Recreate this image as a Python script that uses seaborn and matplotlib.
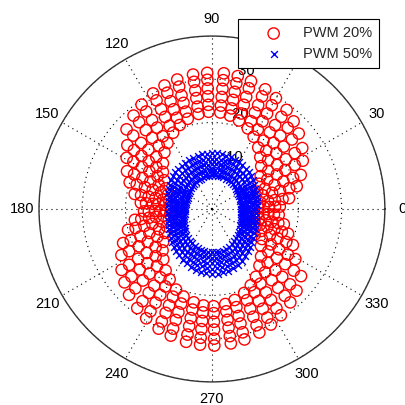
import numpy as np
import pandas as pd
import matplotlib
matplotlib.use("Agg")
import matplotlib.pyplot as plt
import seaborn as sns

# ---------------- data ----------------
series_names = ["PWM 20%", "PWM 50%"]

# PWM 20 %: radial clusters ("spokes"), angle in degrees and radii of the circles in each spoke
red_theta_deg = [2, 8, 15, 21, 28, 34, 41, 47, 53, 60, 66, 73, 79, 85,
                 92, 98, 105, 111, 117, 124, 130, 137, 143, 149, 156, 162, 169, 175,
                 182, 188, 194, 201, 207, 214, 220, 226, 233, 239, 246, 252, 259, 265,
                 271, 278, 284, 291, 297, 303, 310, 316, 323, 329, 336, 342, 348, 355]
red_radii = [
    [9.5, 10.6, 12.0, 13.2, 14.6, 15.7], [9.8, 11.3, 13.1, 14.7, 16.5, 18.0],
    [10.4, 12.2, 14.4, 16.3, 18.5, 20.3], [11.2, 13.1, 15.5, 17.7, 20.1, 22.0],
    [12.4, 14.5, 17.0, 19.2, 21.7, 23.8], [13.6, 15.7, 18.2, 20.6, 23.1, 25.2],
    [15.1, 17.2, 19.7, 22.0, 24.5, 26.6], [16.4, 18.4, 20.9, 23.2, 25.7, 27.7],
    [17.8, 19.8, 22.2, 24.3, 26.7, 28.7], [19.3, 21.2, 23.4, 25.5, 27.7, 29.6],
    [20.4, 22.2, 24.4, 26.3, 28.5, 30.3], [21.4, 23.1, 25.2, 27.1, 29.2, 30.9],
    [22.0, 23.7, 25.7, 27.6, 29.6, 31.3], [22.4, 24.0, 26.0, 27.9, 29.9, 31.5],
    [22.5, 24.1, 26.1, 27.9, 29.9, 31.5], [22.2, 23.9, 25.9, 27.7, 29.7, 31.4],
    [21.6, 23.3, 25.4, 27.2, 29.3, 31.0], [20.8, 22.6, 24.7, 26.7, 28.8, 30.6],
    [19.8, 21.6, 23.9, 25.9, 28.2, 30.0], [18.4, 20.3, 22.7, 24.8, 27.2, 29.1],
    [17.1, 19.1, 21.5, 23.8, 26.2, 28.2], [15.5, 17.6, 20.1, 22.4, 24.9, 27.0],
    [14.2, 16.1, 18.3, 20.4, 22.6, 24.5], [12.9, 14.7, 16.9, 18.9, 21.2, 23.0],
    [11.7, 13.5, 15.6, 17.6, 19.7, 21.5], [10.7, 12.4, 14.4, 16.3, 18.3, 20.0],
    [10.0, 11.5, 13.3, 14.9, 16.7, 18.2], [9.6, 10.8, 12.4, 13.7, 15.3, 16.5],
    [9.5, 10.6, 12.0, 13.2, 14.6, 15.7], [9.8, 11.3, 13.1, 14.7, 16.5, 18.0],
    [10.3, 12.0, 14.2, 16.1, 18.2, 20.0], [11.2, 13.1, 15.5, 17.7, 20.1, 22.0],
    [12.2, 14.2, 16.7, 19.0, 21.5, 23.5], [13.6, 15.7, 18.2, 20.6, 23.1, 25.2],
    [14.9, 17.0, 19.5, 21.8, 24.3, 26.4], [16.2, 18.3, 20.8, 23.0, 25.5, 27.6],
    [17.8, 19.8, 22.2, 24.3, 26.7, 28.7], [19.0, 20.9, 23.2, 25.3, 27.6, 29.5],
    [20.4, 22.2, 24.4, 26.3, 28.5, 30.3], [21.3, 23.0, 25.1, 27.0, 29.1, 30.8],
    [22.0, 23.7, 25.7, 27.6, 29.6, 31.3], [22.4, 24.0, 26.0, 27.9, 29.9, 31.5],
    [22.5, 24.1, 26.1, 27.9, 30.0, 31.6], [22.2, 23.9, 25.9, 27.7, 29.7, 31.4],
    [21.7, 23.4, 25.5, 27.3, 29.4, 31.1], [20.8, 22.6, 24.7, 26.7, 28.8, 30.6],
    [19.8, 21.6, 23.9, 25.9, 28.2, 30.0], [18.7, 20.6, 23.0, 25.1, 27.4, 29.3],
    [17.1, 19.1, 21.5, 23.8, 26.2, 28.2], [15.8, 17.9, 20.4, 22.6, 25.1, 27.2],
    [14.2, 16.3, 18.8, 21.2, 23.7, 25.8], [11.5, 13.5, 15.9, 18.1, 20.5, 22.5],
    [10.8, 12.5, 14.7, 16.6, 18.8, 20.5], [10.2, 11.7, 13.5, 15.2, 17.0, 18.5],
    [9.8, 11.1, 12.7, 14.1, 15.7, 17.0], [9.6, 10.7, 12.0, 13.1, 14.4, 15.5],
]

# PWM 50 %: dense ring of crosses, angle in degrees and radii at that angle
blue_theta_deg = [0, 5, 10, 15, 20, 25, 30, 35, 40, 45, 50, 55, 60, 65, 70, 75, 80, 85,
                  90, 95, 100, 105, 110, 115, 120, 125, 130, 135, 140, 145, 150, 155, 160, 165, 170, 175,
                  180, 185, 190, 195, 200, 205, 210, 215, 220, 225, 230, 235, 240, 245, 250, 255, 260, 265,
                  270, 275, 280, 285, 290, 295, 300, 305, 310, 315, 320, 325, 330, 335, 340, 345, 350, 355]
blue_radii = [
    [6.8, 7.7, 8.6, 9.4, 10.3], [6.8, 7.7, 8.6, 9.5, 10.4], [6.8, 7.8, 8.7, 9.7, 10.6],
    [6.8, 7.8, 8.8, 9.7, 10.7], [6.9, 7.9, 8.9, 9.9, 10.9], [6.9, 8.0, 9.0, 10.1, 11.1],
    [7.0, 8.1, 9.2, 10.2, 11.3], [7.1, 8.2, 9.3, 10.4, 11.5], [7.3, 8.4, 9.6, 10.7, 11.8],
    [7.4, 8.6, 9.7, 10.9, 12.0], [7.5, 8.7, 9.9, 11.0, 12.2], [7.6, 8.8, 10.0, 11.1, 12.3],
    [7.7, 8.9, 10.1, 11.3, 12.5], [7.7, 8.9, 10.2, 11.4, 12.6], [7.8, 9.0, 10.3, 11.5, 12.7],
    [7.8, 9.1, 10.3, 11.6, 12.8], [7.8, 9.1, 10.4, 11.6, 12.9], [7.8, 9.1, 10.4, 11.6, 12.9],
    [7.8, 9.1, 10.4, 11.6, 12.9], [7.7, 9.0, 10.3, 11.5, 12.8], [7.7, 9.0, 10.3, 11.5, 12.8],
    [7.6, 8.9, 10.2, 11.4, 12.7], [7.5, 8.8, 10.1, 11.3, 12.6], [7.3, 8.6, 9.9, 11.1, 12.4],
    [7.2, 8.5, 9.8, 11.0, 12.3], [7.1, 8.4, 9.7, 10.9, 12.2], [6.9, 8.2, 9.5, 10.8, 12.1],
    [6.8, 8.1, 9.4, 10.7, 12.0], [6.6, 7.9, 9.2, 10.4, 11.7], [6.5, 7.8, 9.0, 10.3, 11.5],
    [6.3, 7.5, 8.8, 10.0, 11.2], [6.2, 7.4, 8.6, 9.7, 10.9], [6.2, 7.3, 8.5, 9.6, 10.7],
    [6.1, 7.2, 8.3, 9.3, 10.4], [6.1, 7.1, 8.2, 9.2, 10.2], [6.2, 7.2, 8.2, 9.1, 10.1],
    [6.2, 7.2, 8.1, 9.1, 10.0], [6.3, 7.3, 8.2, 9.2, 10.1], [6.4, 7.4, 8.3, 9.3, 10.2],
    [6.6, 7.5, 8.5, 9.4, 10.3], [6.9, 7.8, 8.8, 9.7, 10.6], [7.1, 8.1, 9.0, 10.0, 10.9],
    [7.4, 8.4, 9.3, 10.3, 11.2], [7.7, 8.7, 9.7, 10.6, 11.6], [8.1, 9.1, 10.1, 11.0, 12.0],
    [8.4, 9.4, 10.4, 11.4, 12.4], [8.7, 9.7, 10.8, 11.8, 12.8], [9.0, 10.0, 11.1, 12.1, 13.1],
    [9.2, 10.3, 11.4, 12.4, 13.5], [9.4, 10.5, 11.6, 12.7, 13.8], [9.6, 10.8, 11.9, 13.1, 14.2],
    [9.8, 11.0, 12.2, 13.3, 14.5], [9.9, 11.1, 12.3, 13.5, 14.7], [10.0, 11.2, 12.5, 13.7, 14.9],
    [10.0, 11.3, 12.5, 13.8, 15.0], [10.0, 11.3, 12.5, 13.8, 15.0], [10.0, 11.2, 12.5, 13.7, 14.9],
    [10.0, 11.2, 12.4, 13.6, 14.8], [9.8, 11.0, 12.2, 13.3, 14.5], [9.6, 10.8, 11.9, 13.1, 14.2],
    [9.4, 10.5, 11.6, 12.7, 13.8], [9.1, 10.2, 11.2, 12.3, 13.3], [8.8, 9.8, 10.8, 11.8, 12.8],
    [8.5, 9.5, 10.4, 11.4, 12.3], [8.2, 9.1, 10.1, 11.0, 11.9], [7.9, 8.8, 9.8, 10.7, 11.6],
    [7.6, 8.5, 9.4, 10.3, 11.2], [7.4, 8.3, 9.2, 10.1, 11.0], [7.2, 8.1, 9.0, 9.8, 10.7],
    [7.0, 7.9, 8.8, 9.6, 10.5], [6.9, 7.8, 8.7, 9.5, 10.4], [6.8, 7.7, 8.6, 9.4, 10.3],
]

r_max = 40
ring_ticks = [10, 20, 30, 40]
ring_labels = [10, 20, 30]          # the outer ring label is hidden under the legend
angle_ticks = [0, 30, 60, 90, 120, 150, 180, 210, 240, 270, 300, 330]
# the "60" label sits under the legend in the reference, so it is not shown
angle_labels = ["0", "30", "", "90", "120", "150", "180", "210", "240", "270", "300", "330"]

# ---------------- tidy table ----------------
def to_frame(thetas, radii, name):
    rows = [(np.deg2rad(t), r, name) for t, rs in zip(thetas, radii) for r in rs]
    return pd.DataFrame(rows, columns=["theta", "r", "series"])

red_df = to_frame(red_theta_deg, red_radii, series_names[0])
blue_df = to_frame(blue_theta_deg, blue_radii, series_names[1])

# ---------------- figure ----------------
sns.set_style("white")
plt.rcParams["font.family"] = ["Liberation Sans", "DejaVu Sans"]
plt.rcParams["font.size"] = 10.5

fig = plt.figure(figsize=(4.06, 4.05), dpi=100)
ax = fig.add_axes([0.096, 0.057, 0.852, 0.854], projection="polar")
ax.set_facecolor("white")

sns.scatterplot(data=red_df, x="theta", y="r", ax=ax, marker="o", s=66,
                color="red", facecolor="none", edgecolor="red", linewidth=1.0,
                label=series_names[0], zorder=3)
sns.scatterplot(data=blue_df, x="theta", y="r", ax=ax, marker="x", s=24,
                color="blue", linewidth=1.0, label=series_names[1], zorder=4)

ax.set_xlabel("")
ax.set_ylabel("")
ax.set_ylim(0, r_max)
ax.set_rticks(ring_ticks)
ax.set_yticklabels([])
ax.set_xticks(np.deg2rad(angle_ticks))
ax.set_xticklabels([])
ax.grid(True, color="black", linestyle=(0, (1, 3.5)), linewidth=0.8)
ax.spines["polar"].set_color("0.2")
ax.spines["polar"].set_linewidth(1.0)

# angle labels (MATLAB-style, at 1.1 * rmax)
for a, lab in zip(angle_ticks, angle_labels):
    if lab:
        ax.text(np.deg2rad(a), r_max * 1.1, lab, ha="center", va="center",
                fontsize=10.5, color="black", clip_on=False)

# ring labels at 82 degrees
for rt in ring_labels:
    ax.text(np.deg2rad(82), rt + 0.5, "  " + str(rt), ha="left", va="bottom",
            fontsize=10.5, color="black", clip_on=False, zorder=2)

leg = ax.legend(loc="upper right", bbox_to_anchor=(0.934, 0.953),
                bbox_transform=fig.transFigure, frameon=True, fancybox=False,
                framealpha=1, edgecolor="black", fontsize=10.5,
                handletextpad=0.05, borderpad=0.5, labelspacing=0.45,
                handlelength=3.9, borderaxespad=0, scatterpoints=1)
leg.get_frame().set_linewidth(0.8)
leg.set_zorder(10)

fig.savefig("out.png", dpi=100)
